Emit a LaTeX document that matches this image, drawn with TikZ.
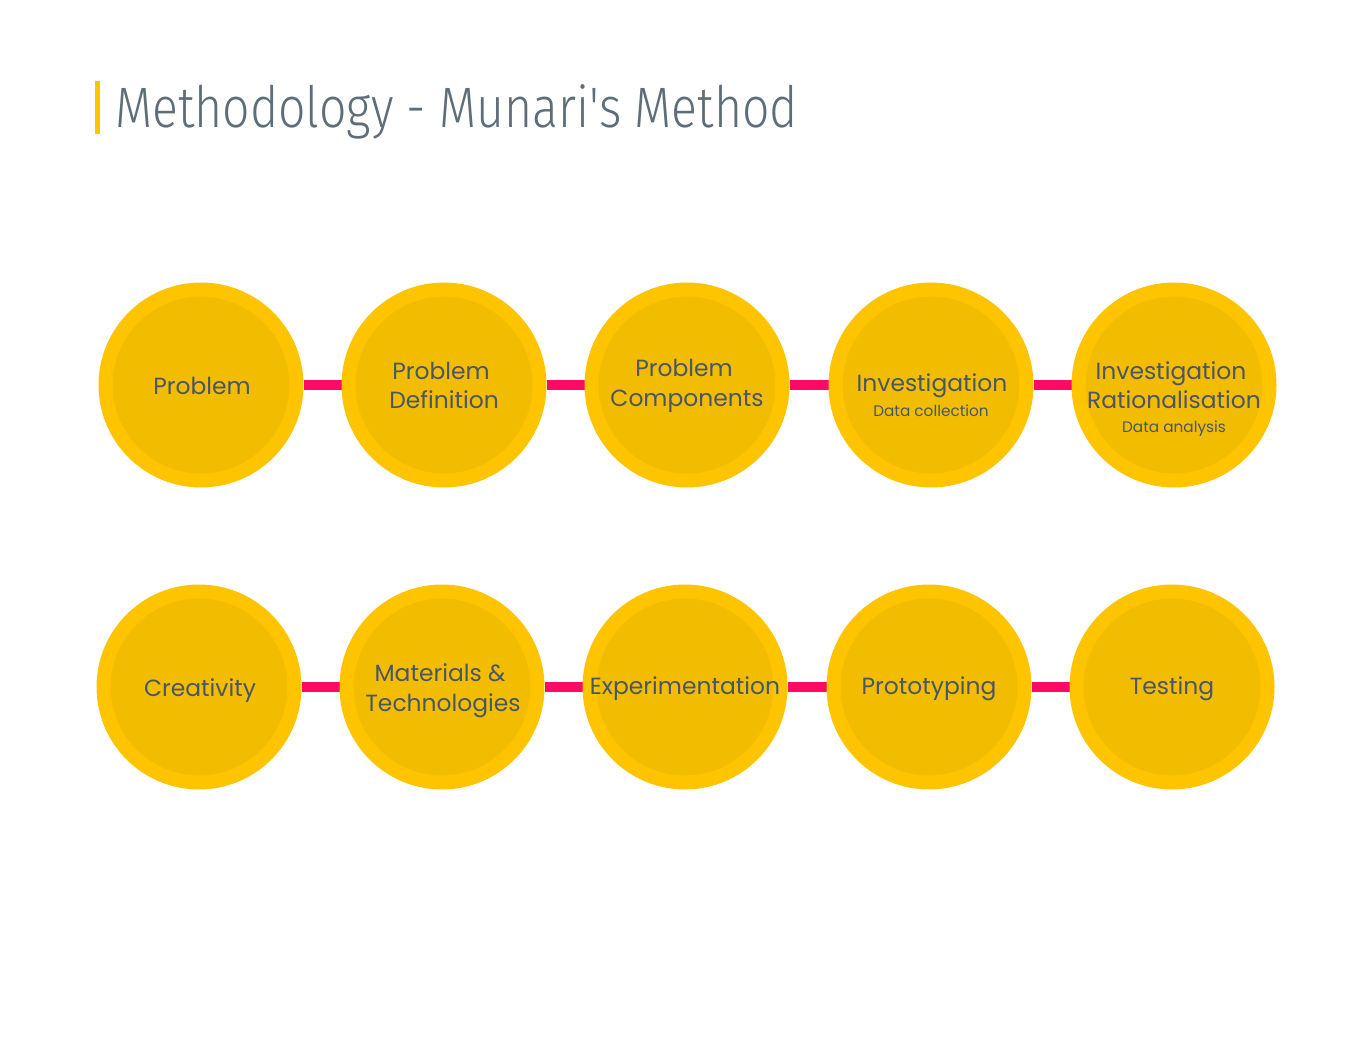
\documentclass[tikz,border=0pt]{standalone}
\usepackage{fontspec}
\setmainfont{Poppins}
\newfontfamily\titlefont{Fira Sans Light}
\usetikzlibrary{backgrounds}
\definecolor{ringcol}{HTML}{FFC400}
\definecolor{discol}{HTML}{F2BD00}
\definecolor{linkcol}{HTML}{FF0A64}
\definecolor{txtcol}{HTML}{4A5666}
\definecolor{titlecol}{HTML}{5E6E78}
\definecolor{barcol}{HTML}{FFC400}
\tikzset{
  stage/.style={circle, draw=ringcol, line width=14pt, fill=discol, minimum size=191pt, inner sep=0pt},
  link/.style={draw=linkcol, line width=10pt},
  lbl/.style={anchor=base, text=txtcol, font=\fontsize{23.4}{27}\selectfont, inner sep=0pt},
  sub/.style={anchor=base, text=txtcol, font=\fontsize{15.3}{18}\selectfont, inner sep=0pt},
}
\begin{document}
\begin{tikzpicture}[x=1pt,y=-1pt]
\useasboundingbox (0,0) rectangle (1366,1056);
% title
\fill[barcol] (95,81) rectangle (100,134);
\node[anchor=base west, inner sep=0pt, text=titlecol, font=\titlefont\fontsize{57}{60}\selectfont] (title) at (115,128) {\scalebox{0.845}[1]{Methodology - Munari's Method}};
% row 1
\node[stage] (c1) at (201,385) {};
\node[stage] (c2) at (444,385) {};
\node[stage] (c3) at (687,385) {};
\node[stage] (c4) at (931,385) {};
\node[stage] (c5) at (1174,385) {};
% row 2
\node[stage] (d1) at (199,687) {};
\node[stage] (d2) at (442,687) {};
\node[stage] (d3) at (685,687) {};
\node[stage] (d4) at (929,687) {};
\node[stage] (d5) at (1172,687) {};
\begin{scope}[on background layer]
\fill[white] (0,0) rectangle (1366,1056);
\path[link] (c1) -- (c2) (c2) -- (c3) (c3) -- (c4) (c4) -- (c5);
\path[link] (d1) -- (d2) (d2) -- (d3) (d3) -- (d4) (d4) -- (d5);
\end{scope}
% labels row 1
\node[lbl] (t1) at (202,395) {Problem};
\node[lbl] (t2a) at (441,380) {Problem};
\node[lbl] (t2b) at (444,409) {Definition};
\node[lbl] (t3a) at (684,377) {Problem};
\node[lbl] (t3b) at (687,407) {Components};
\node[lbl] (t4a) at (932,392) {Investigation};
\node[sub] (t4b) at (931,417) {Data collection};
\node[lbl] (t5a) at (1171,380) {Investigation};
\node[lbl] (t5b) at (1174,409) {Rationalisation};
\node[sub] (t5c) at (1174,433) {Data analysis};
% labels row 2
\node[lbl] (u1) at (200,696) {Creativity};
\node[lbl] (u2a) at (440,681) {Materials \&};
\node[lbl] (u2b) at (443,711) {Technologies};
\node[lbl] (u3) at (685,694) {Experimentation};
\node[lbl] (u4) at (929,694) {Prototyping};
\node[lbl] (u5) at (1172,694) {Testing};
\end{tikzpicture}
\end{document}
